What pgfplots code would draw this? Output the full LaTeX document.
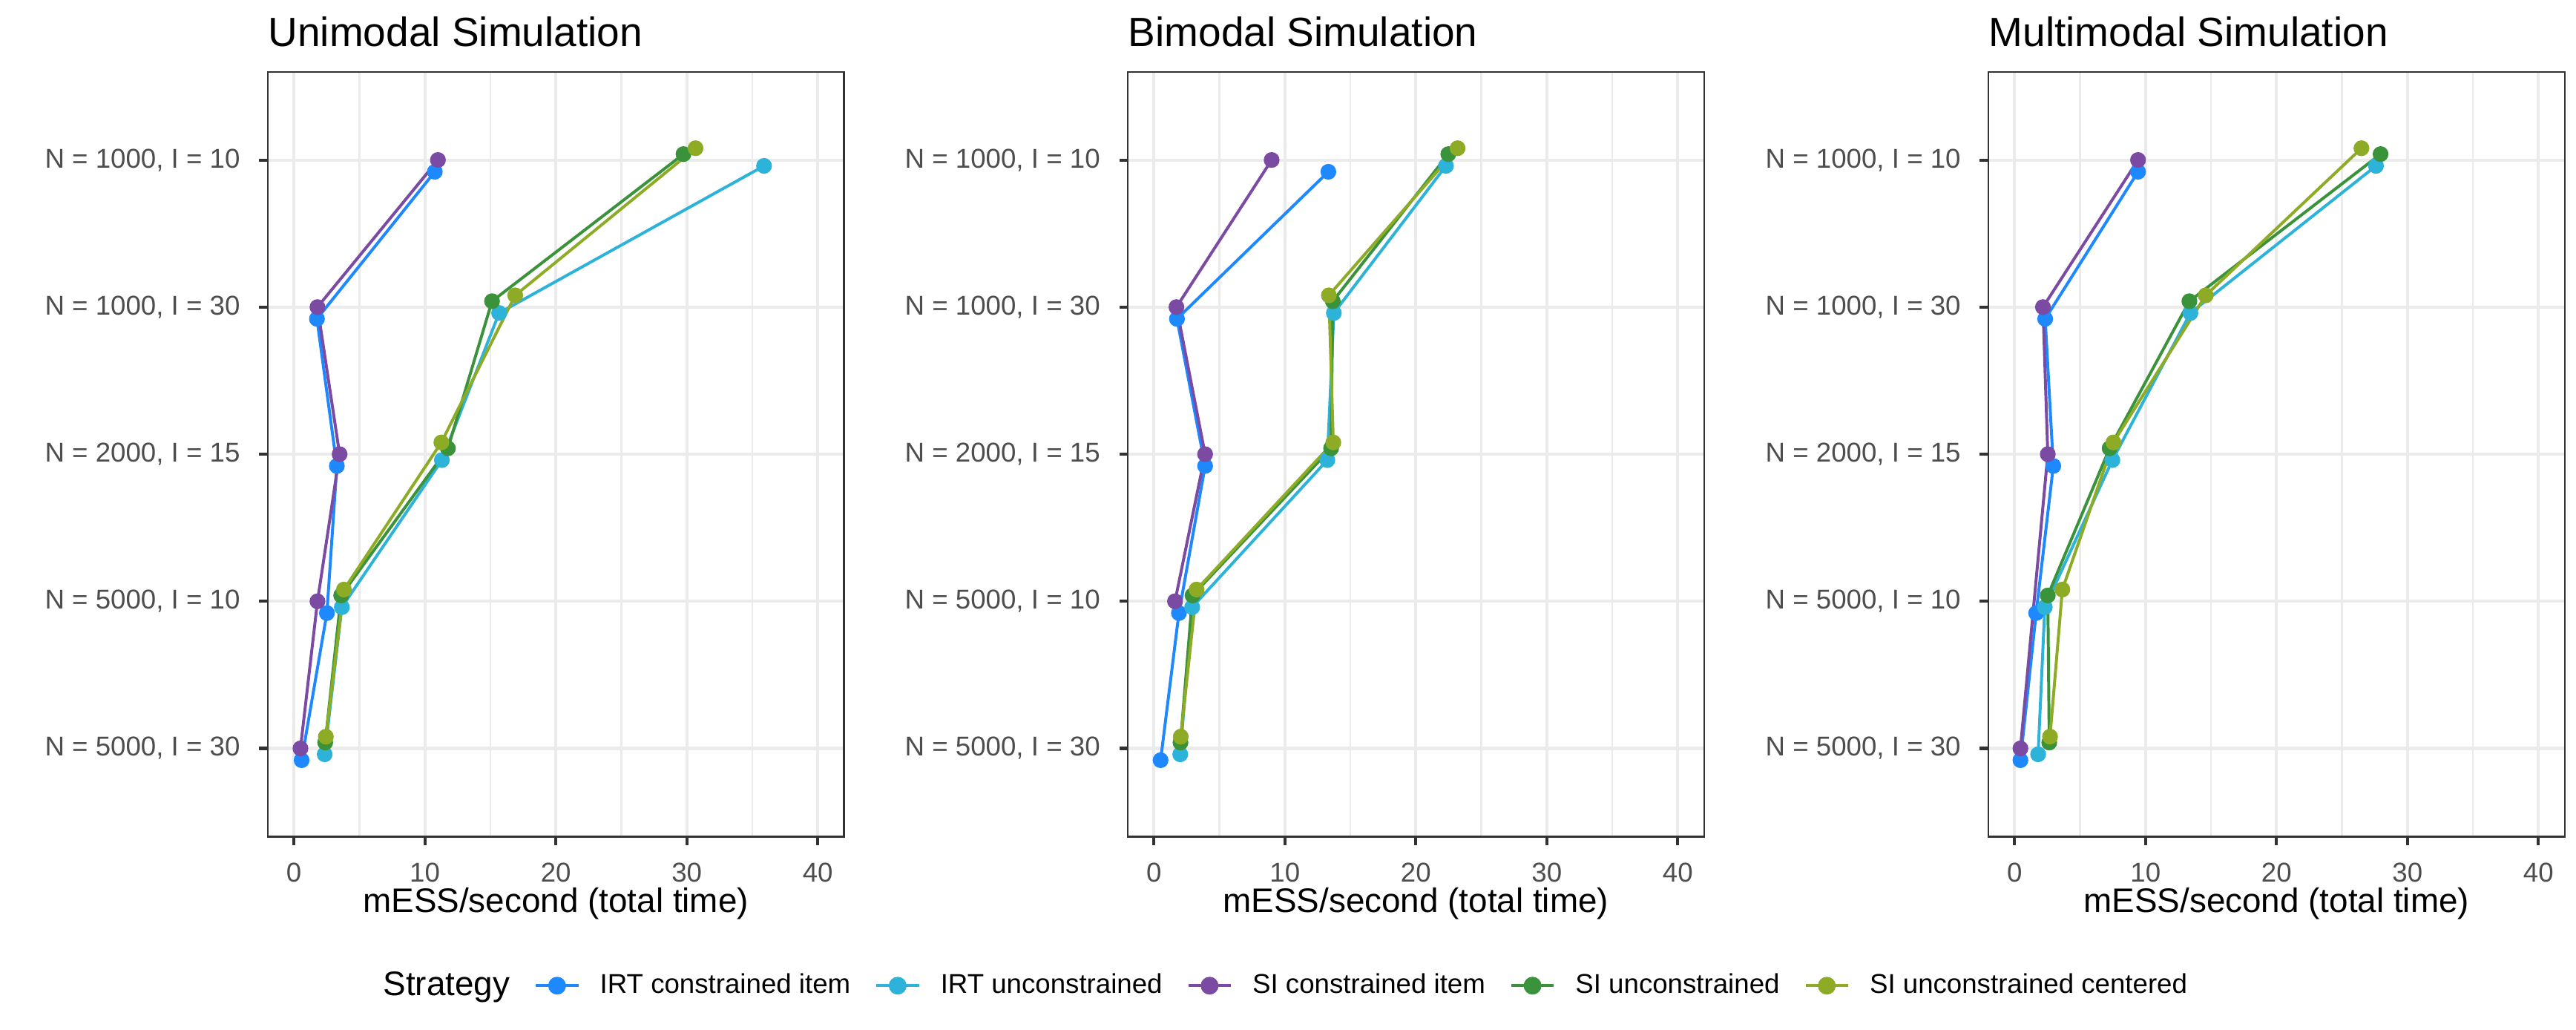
\documentclass[border=0pt]{standalone}
\usepackage{fontspec}
\setmainfont{Liberation Sans}
\usepackage{pgfplots}
\usepackage{pgfplotstable}
\pgfplotsset{compat=1.18}

\definecolor{cBlue}{HTML}{1E88FF}
\definecolor{cCyan}{HTML}{2DB3D9}
\definecolor{cPurple}{HTML}{7B4AA3}
\definecolor{cGreen}{HTML}{3A923A}
\definecolor{cOlive}{HTML}{8EAB26}
\definecolor{gridc}{HTML}{EBEBEB}
\definecolor{grayB}{HTML}{333333}
\definecolor{grayT}{HTML}{4D4D4D}

% pos: 5 = N=1000,I=10 ; 4 = N=1000,I=30 ; 3 = N=2000,I=15 ; 2 = N=5000,I=10 ; 1 = N=5000,I=30
\pgfplotstableread{
pos blue cyan purple green olive
5 10.76 35.90 11.00 29.75 30.67
4 1.76 15.67 1.80 15.13 16.90
3 3.28 11.30 3.49 11.76 11.26
2 2.52 3.66 1.80 3.61 3.82
1 0.59 2.35 0.50 2.39 2.44
}\uniTab

\pgfplotstableread{
pos blue cyan purple green olive
5 13.32 22.30 8.99 22.48 23.19
4 1.76 13.74 1.72 13.66 13.36
3 3.91 13.24 3.91 13.53 13.70
2 1.91 2.92 1.61 2.95 3.26
1 0.51 2.01 nan 2.03 2.05
}\biTab

\pgfplotstableread{
pos blue cyan purple green olive
5 9.43 27.60 9.43 27.95 26.49
4 2.34 13.43 2.17 13.35 14.60
3 2.96 7.47 2.54 7.26 7.55
2 1.65 2.31 nan 2.54 3.65
1 0.45 1.80 0.45 2.65 2.71
}\multiTab

\pgfplotsset{
  panel/.style={
    scale only axis, width=186.4pt, height=247.4pt,
    xmin=-2, xmax=42, ymin=0.4, ymax=5.6,
    xtick={0,10,20,30,40}, minor xtick={5,15,25,35},
    ytick={1,2,3,4,5},
    yticklabels={{N = 5000, I = 30},{N = 5000, I = 10},{N = 2000, I = 15},{N = 1000, I = 30},{N = 1000, I = 10}},
    xmajorgrids, xminorgrids, ymajorgrids,
    major grid style={color=gridc, line width=1pt},
    minor grid style={color=gridc, line width=0.55pt},
    axis line style={color=grayB, line width=0.5pt},
    tick align=outside, tick pos=left,
    major tick length=2.75pt, minor tick length=0pt,
    major tick style={color=grayB, line width=1pt},
    /pgf/number format/assume math mode=true,
    ticklabel style={font=\fontsize{8.8}{10}\selectfont, text=grayT, inner sep=0pt},
    xticklabel style={anchor=base, yshift=-11.8pt},
    yticklabel style={anchor=east, xshift=-6pt},
    xlabel={mESS/second (total time)},
    xlabel style={at={(axis description cs:0.5,0)}, anchor=base, yshift=-24.4pt, inner sep=0pt, font=\fontsize{11}{13}\selectfont},
    title style={at={(axis description cs:0,1)}, anchor=base west, yshift=2.3pt, inner sep=0pt, font=\fontsize{13.2}{15}\selectfont},
  },
  sline/.style={line width=0.95pt, mark=none,
    legend image code/.code={\draw[line width=0.95pt] (0pt,0pt) -- (13.8pt,0pt); \fill (6.9pt,0pt) circle (2.4pt);}},
  smark/.style={only marks, mark=*, mark size=2.35pt, mark options={draw=none}, forget plot},
}

\newcommand\drawseries[1]{%
  \addplot[cBlue, sline] table[x=blue, y expr=\thisrow{pos}-0.08]{#1};
  \addplot[cCyan, sline] table[x=cyan, y expr=\thisrow{pos}-0.04]{#1};
  \addplot[cPurple, sline] table[x=purple, y=pos]{#1};
  \addplot[cGreen, sline] table[x=green, y expr=\thisrow{pos}+0.04]{#1};
  \addplot[cOlive, sline] table[x=olive, y expr=\thisrow{pos}+0.08]{#1};
  \addplot[cBlue, smark, mark options={fill=cBlue}] table[x=blue, y expr=\thisrow{pos}-0.08]{#1};
  \addplot[cCyan, smark, mark options={fill=cCyan}] table[x=cyan, y expr=\thisrow{pos}-0.04]{#1};
  \addplot[cPurple, smark, mark options={fill=cPurple}] table[x=purple, y=pos]{#1};
  \addplot[cGreen, smark, mark options={fill=cGreen}] table[x=green, y expr=\thisrow{pos}+0.04]{#1};
  \addplot[cOlive, smark, mark options={fill=cOlive}] table[x=olive, y expr=\thisrow{pos}+0.08]{#1};
}

\begin{document}
\begin{tikzpicture}
\path[use as bounding box] (0pt,0pt) rectangle (833.3pt,333.1pt);

\begin{axis}[panel, at={(86.6pt,62.5pt)}, anchor=south west,
  title={Unimodal Simulation},
  legend style={at={(1.7539,-0.1948)}, anchor=center, draw=none, fill=none,
    legend columns=-1, font=\fontsize{8.8}{10}\selectfont,
    /tikz/every odd column/.append style={column sep=4.5pt},
    /tikz/every even column/.append style={column sep=5.9pt}},
  legend entries={{\fontsize{11}{13}\selectfont Strategy},IRT constrained item,IRT unconstrained,SI constrained item,SI unconstrained,SI unconstrained centered},
]
\addlegendimage{empty legend}
\drawseries{\uniTab}
\end{axis}

\begin{axis}[panel, at={(364.8pt,62.5pt)}, anchor=south west,
  title={Bimodal Simulation}]
\drawseries{\biTab}
\end{axis}

\begin{axis}[panel, at={(643.2pt,62.5pt)}, anchor=south west,
  title={Multimodal Simulation}]
\drawseries{\multiTab}
\end{axis}
\end{tikzpicture}
\end{document}
